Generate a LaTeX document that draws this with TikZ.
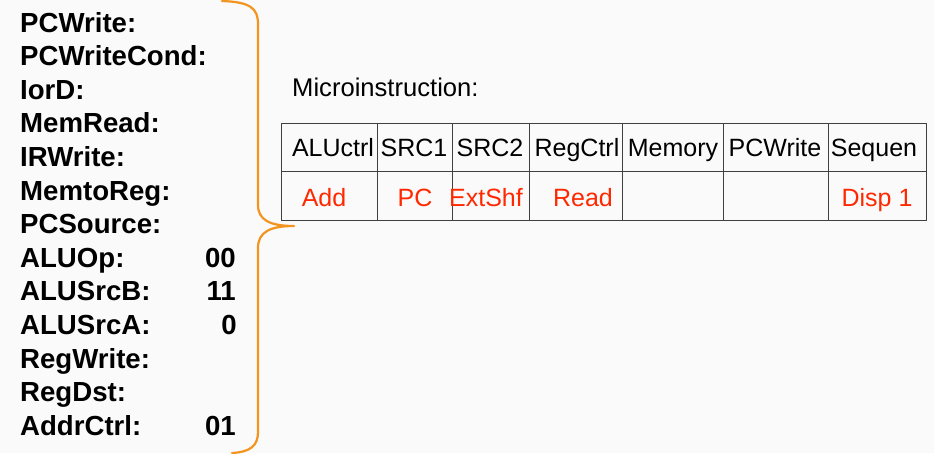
\documentclass[tikz,border=0pt]{standalone}
\usepackage{fontspec}
\setmainfont{Liberation Sans}
\definecolor{bg}{RGB}{250,250,250}
\definecolor{braceorange}{RGB}{242,148,30}
\definecolor{gridgray}{RGB}{64,64,64}
\definecolor{valred}{RGB}{255,40,0}
\begin{document}
\begin{tikzpicture}[x=1pt,y=-1pt,
  signal/.style={anchor=base west, inner sep=0, font=\fontsize{27.6}{27.6}\selectfont\bfseries},
  sigval/.style={anchor=base east, inner sep=0, font=\fontsize{27.6}{27.6}\selectfont\bfseries},
  head/.style={anchor=base, inner sep=0, font=\fontsize{25}{25}\selectfont},
  entry/.style={head, text=valred},
  gridline/.style={draw=gridgray, line width=1pt},
  curly/.style={draw=braceorange, line width=2.2pt, line cap=round, line join=round}]
\fill[bg] (0,0) rectangle (934,453);
\useasboundingbox (0,0) rectangle (934,453);

% control signal names
\foreach \name [count=\i from 0] in {PCWrite,PCWriteCond,IorD,MemRead,IRWrite,MemtoReg,PCSource,ALUOp,ALUSrcB,ALUSrcA,RegWrite,RegDst,AddrCtrl}
  \node[signal] (sig\i) at (20,{32+33.6*\i}) {\name:};

% asserted values
\node[sigval] (aluop)    at (236,{32+33.6*7})  {00};
\node[sigval] (alusrcb)  at (236,{32+33.6*8})  {11};
\node[sigval] (alusrca)  at (237,{32+33.6*9})  {0};
\node[sigval] (addrctrl) at (236,{32+33.6*12}) {01};

% curly brace
\draw[curly] (222,1) .. controls (250,2) and (258,8) .. (258,24)
  -- (258,205) .. controls (258,220) and (270,226) .. (294,226)
  .. controls (270,226) and (258,232) .. (258,248)
  -- (258,432) .. controls (258,446) and (250,452) .. (232,453);

% microinstruction format
\node[anchor=base west, inner sep=0, font=\fontsize{25.6}{25.6}\selectfont] (title) at (292,96.5) {Microinstruction:};

\draw[gridline] (281,123) rectangle (926,220);
\draw[gridline] (281,171) -- (926,171);
\foreach \x in {377,452,529,622,723,828}
  \draw[gridline] (\x,123) -- (\x,220);

\node[head] (h1) at (333,156.5) {ALUctrl};
\node[head] (h2) at (414,156.5) {SRC1};
\node[head] (h3) at (490,156.5) {SRC2};
\node[head] (h4) at (577,156.5) {RegCtrl};
\node[head] (h5) at (673,156.5) {Memory};
\node[head] (h6) at (775,156.5) {PCWrite};
\node[head] (h7) at (874,156.5) {Sequen};

\node[entry] (e1) at (324,206.5) {Add};
\node[entry] (e2) at (415,206.5) {PC};
\node[entry] (e3) at (486,206.5) {ExtShf};
\node[entry] (e4) at (583,206.5) {Read};
\node[entry] (e7) at (877,206.5) {Disp 1};
\end{tikzpicture}
\end{document}
